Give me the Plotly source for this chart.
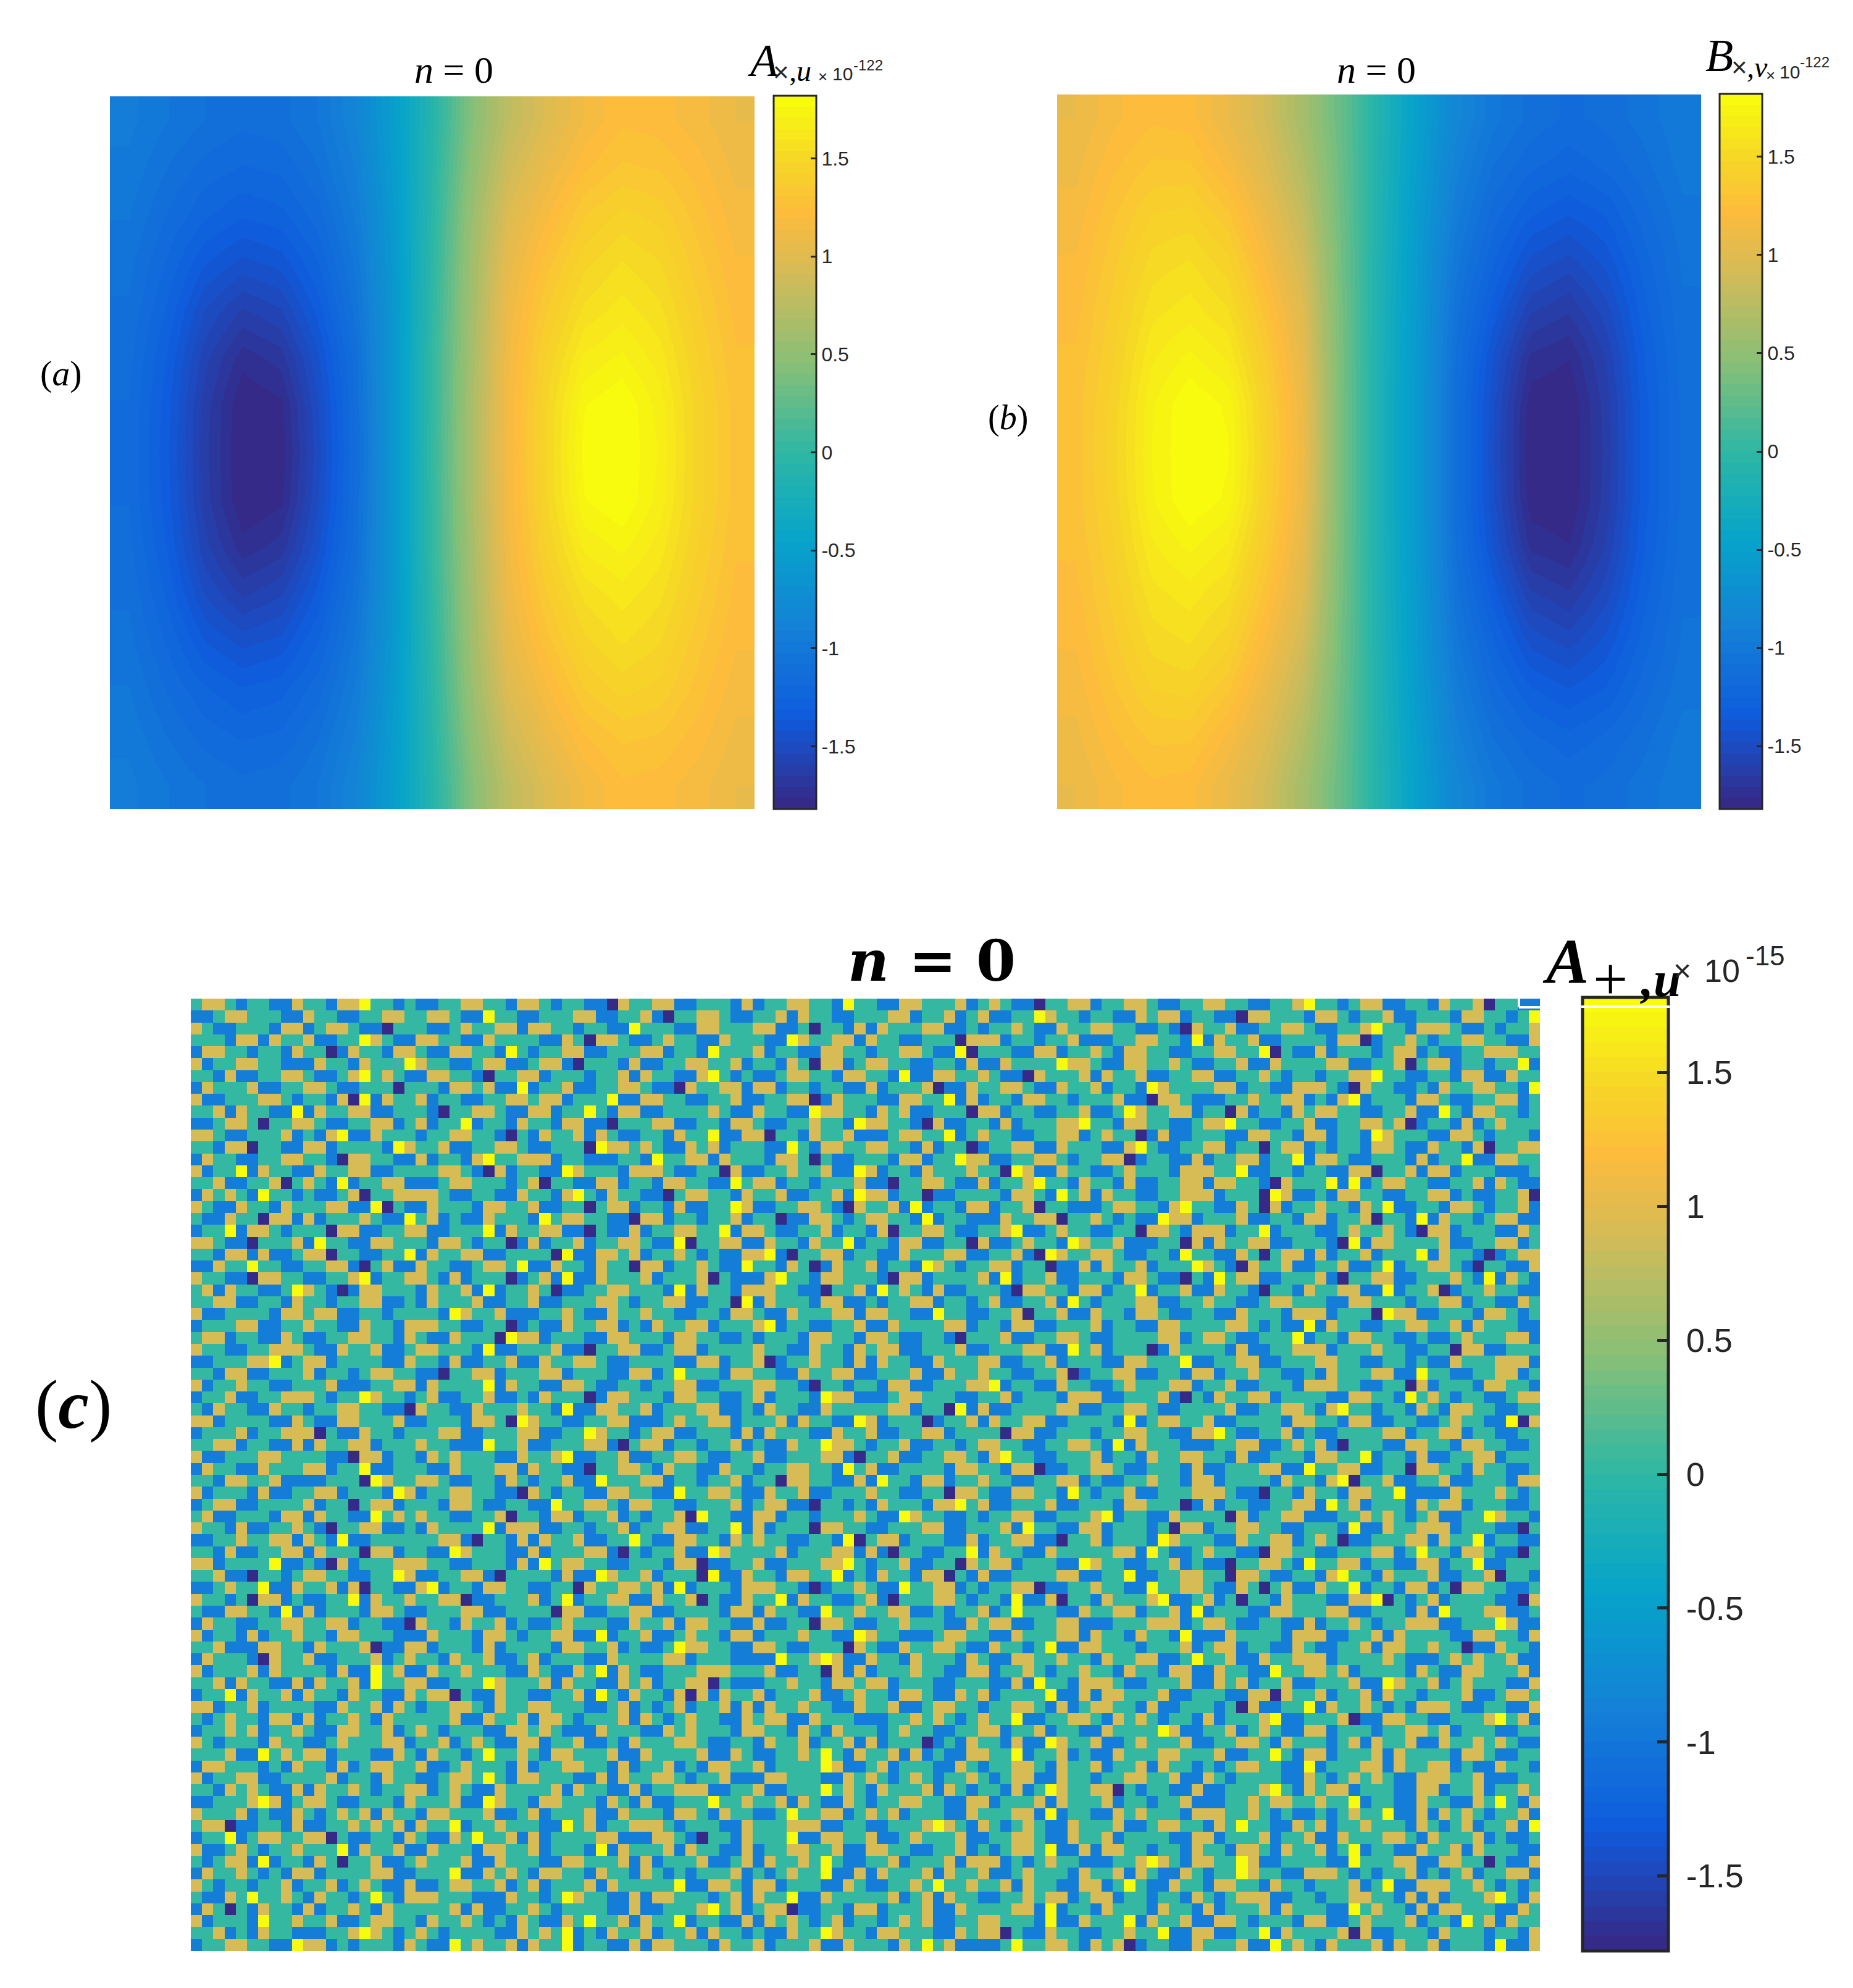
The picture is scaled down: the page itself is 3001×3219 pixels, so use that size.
import plotly.graph_objects as go

W, H = 3001, 3219

# Panel (a): coarse estimates, rows top to bottom, smoothed by the browser
panel_a = [
 [-0.95,-1.02,-1.08,-1.12,-1.10,-1.02,-0.85,-0.52,-0.08,0.42,0.78,0.98,1.14,1.24,1.22,1.16,1.08],
 [-0.98,-1.08,-1.16,-1.20,-1.18,-1.08,-0.90,-0.54,-0.06,0.48,0.88,1.08,1.24,1.32,1.30,1.22,1.12],
 [-1.02,-1.14,-1.24,-1.30,-1.27,-1.16,-0.95,-0.57,-0.04,0.54,0.98,1.18,1.36,1.44,1.40,1.28,1.16],
 [-1.06,-1.20,-1.36,-1.44,-1.40,-1.25,-1.00,-0.59,-0.02,0.58,1.05,1.28,1.46,1.54,1.48,1.33,1.20],
 [-1.09,-1.26,-1.48,-1.60,-1.54,-1.34,-1.05,-0.60,0.00,0.60,1.10,1.36,1.55,1.62,1.55,1.38,1.23],
 [-1.12,-1.31,-1.57,-1.74,-1.68,-1.43,-1.10,-0.60,0.02,0.62,1.13,1.43,1.66,1.72,1.62,1.42,1.26],
 [-1.14,-1.34,-1.62,-1.82,-1.78,-1.48,-1.12,-0.60,0.02,0.64,1.15,1.47,1.76,1.82,1.68,1.45,1.28],
 [-1.14,-1.35,-1.63,-1.82,-1.80,-1.50,-1.13,-0.60,0.03,0.65,1.16,1.48,1.78,1.82,1.70,1.45,1.28],
 [-1.14,-1.34,-1.62,-1.82,-1.78,-1.48,-1.12,-0.60,0.02,0.64,1.15,1.47,1.76,1.82,1.68,1.45,1.28],
 [-1.12,-1.31,-1.57,-1.74,-1.68,-1.43,-1.10,-0.60,0.02,0.62,1.13,1.43,1.66,1.72,1.62,1.42,1.26],
 [-1.09,-1.26,-1.48,-1.60,-1.54,-1.34,-1.05,-0.60,0.00,0.60,1.10,1.36,1.55,1.62,1.55,1.38,1.23],
 [-1.06,-1.20,-1.36,-1.44,-1.40,-1.25,-1.00,-0.59,-0.02,0.58,1.05,1.28,1.46,1.54,1.48,1.33,1.20],
 [-1.02,-1.14,-1.24,-1.30,-1.27,-1.16,-0.95,-0.57,-0.04,0.54,0.98,1.18,1.36,1.44,1.40,1.28,1.16],
 [-0.98,-1.08,-1.16,-1.20,-1.18,-1.08,-0.90,-0.54,-0.06,0.48,0.88,1.08,1.24,1.32,1.30,1.22,1.12],
 [-0.95,-1.02,-1.08,-1.12,-1.10,-1.02,-0.85,-0.52,-0.08,0.42,0.78,0.98,1.14,1.24,1.22,1.16,1.08],
]

# Panel (b): coarse estimates, rows top to bottom, smoothed by the browser
panel_b = [
 [1.08,1.18,1.24,1.22,1.08,0.90,0.62,0.28,-0.12,-0.50,-0.82,-1.00,-1.10,-1.15,-1.12,-1.05,-0.98],
 [1.12,1.24,1.32,1.32,1.18,0.98,0.70,0.30,-0.13,-0.52,-0.88,-1.08,-1.18,-1.23,-1.18,-1.10,-1.00],
 [1.16,1.30,1.42,1.44,1.32,1.08,0.80,0.32,-0.14,-0.55,-0.94,-1.16,-1.30,-1.36,-1.30,-1.16,-1.04],
 [1.20,1.35,1.50,1.54,1.44,1.18,0.90,0.34,-0.15,-0.57,-1.00,-1.24,-1.44,-1.50,-1.40,-1.22,-1.07],
 [1.23,1.39,1.57,1.62,1.54,1.28,0.98,0.36,-0.16,-0.58,-1.05,-1.33,-1.58,-1.64,-1.50,-1.27,-1.09],
 [1.26,1.42,1.64,1.72,1.64,1.36,1.04,0.37,-0.17,-0.59,-1.08,-1.42,-1.72,-1.76,-1.58,-1.31,-1.11],
 [1.28,1.45,1.70,1.82,1.75,1.42,1.08,0.38,-0.17,-0.60,-1.10,-1.46,-1.80,-1.82,-1.62,-1.33,-1.12],
 [1.28,1.46,1.71,1.82,1.77,1.44,1.10,0.38,-0.17,-0.60,-1.10,-1.47,-1.81,-1.82,-1.63,-1.33,-1.12],
 [1.28,1.45,1.70,1.82,1.75,1.42,1.08,0.38,-0.17,-0.60,-1.10,-1.46,-1.80,-1.82,-1.62,-1.33,-1.12],
 [1.26,1.42,1.64,1.72,1.64,1.36,1.04,0.37,-0.17,-0.59,-1.08,-1.42,-1.72,-1.76,-1.58,-1.31,-1.11],
 [1.23,1.39,1.57,1.62,1.54,1.28,0.98,0.36,-0.16,-0.58,-1.05,-1.33,-1.58,-1.64,-1.50,-1.27,-1.09],
 [1.20,1.35,1.50,1.54,1.44,1.18,0.90,0.34,-0.15,-0.57,-1.00,-1.24,-1.44,-1.50,-1.40,-1.22,-1.07],
 [1.16,1.30,1.42,1.44,1.32,1.08,0.80,0.32,-0.14,-0.55,-0.94,-1.16,-1.30,-1.36,-1.30,-1.16,-1.04],
 [1.12,1.24,1.32,1.32,1.18,0.98,0.70,0.30,-0.13,-0.52,-0.88,-1.08,-1.18,-1.23,-1.18,-1.10,-1.00],
 [1.08,1.18,1.24,1.22,1.08,0.90,0.62,0.28,-0.12,-0.50,-0.82,-1.00,-1.10,-1.15,-1.12,-1.05,-0.98],
]

# Panel (c): the five colour levels the cells take, in colour-bar units
level_values = [-1.78, -0.9, 0.0, 0.9, 1.78]

# Panel (c): hand-typed coarse estimate of the speckle, one digit per block, indexing level_values.
# NOT a cell-by-cell transcription: the reference has about 450x225 cells.
panel_c_rows = [
"2332122113 2213342212 1122332213 3212211032 2331122213 1223322142 2113322231 2321102233 1223321122 3322112234 2212331122 1322302211",
"1123322211 3221122332 2332114221 1222331122 3102233211 2231322112 2233122312 3112243221 2211323312 2110332221 3321223112 2213322124",
"3211222133 1233211022 2112322331 3322122114 2221133222 3311202213 1322233112 1223211322 3322112103 2231122332 1122342213 3321121223",
"2221331322 3112243211 3322113222 2113203321 1232211322 2114322331 3221122203 3312212231 1122332214 1322311222 2133012232 1223322113",
"1332212213 2201322133 2113322142 1223311222 3312214222 3122113322 1223321140 2221133122 3213322112 2332240211 3122212331 2112233322",
"3122332211 1322132224 3221123311 2331022213 1122332231 2213203312 3322112213 1132222433 2113322321 1223113222 2331122302 3312212241",
"2213112233 2112342321 1332210223 3122212231 3221134212 1123322133 2214113322 3211032223 1322311223 3112232122 1223342211 2213311322",
"1322231122 3321122202 2213323114 1223112233 2110322331 3312212211 3122230113 2233211322 3122143222 2331221133 3210322112 1322332214",
"3112223321 2213041322 3122112233 2331222411 3322112231 1223301322 2113322413 1221332212 2231103321 1122322331 2134122213 3211223312",
"2231322114 1322331122 2102233211 3312242133 1122223211 3221143322 1323112220 3312211223 1124322331 2203122132 3322112231 1421332212",
"1123320223 3211223312 3122412213 2213311022 2331122133 2112232214 3322103112 2131222334 2213322112 3342211223 1122332301 2213123222",
"3321122231 2134113222 1223322102 1322313211 2213224113 3022132231 1123322412 3221122331 2322013112 2211332213 3122143222 1133212221",
"2213302211 3312222143 2231122332 1122204332 3211323122 2114213322 3322131220 1223311322 2113421122 3312202331 2122133211 3221302233",
"1322112233 2210332211 3122134223 3312211122 1422331322 2133202112 2213312243 3112233212 2330122113 1223312241 3321122213 1224113322",
"3122413221 1322331122 2233210312 2114322213 3321122031 1223223114 3122132223 2204311322 1123222133 3224112212 2113302231 3312221112",
"2231122302 3214122331 1123322212 3022113312 2133221142 3312212223 1102233211 3122342213 2213112233 1332210322 2414123322 1122313211",
"1323214221 2112302233 3321122113 2213421322 1102332213 2231122314 3312201122 2213321423 1322112233 3122204311 2133221122 3312112230",
"3211322132 2233114021 1322213322 3112202331 2213112243 1122332103 2231412213 3122302211 1233221342 2113203122 3221324112 2133212231",
"2113220331 3122232114 2312113222 1423322110 3312212231 2201133212 3322141221 1132233022 3212114331 2223112213 3122302214 1322123311",
"1224133212 2203311223 3112224132 2331102113 1223322413 3211223122 1302233211 2234112322 1122033213 3312241222 1123223210 3312221132",
"3321102223 1422113322 2133212201 3122312233 2114022331 1322132241 2213311220 3112322143 2231112203 1322331122 2104133222 2311223312",
"2213313112 3302211224 1322331122 2204113323 1223212113 3410223312 2113222331 1223104322 3321122142 2113202331 3122312224 1322101233",
"1132242211 2233102311 3221123324 1132213220 3312232114 2213201322 3122143212 2331220113 1322312224 3210322311 2231124122 3321022113",
"3221103322 1122341223 3213122201 2314113222 3122230211 1342213322 2103312222 3141223112 2213321102 1423311222 3102233112 2232141321",
"2313221124 3210133222 1322314122 3201122332 2214132213 3322110223 1423213112 2210332213 3122412231 1322102213 2233114122 3012232211",
"2233112213 2212233112 1322231122 3112223321 2233112204 1322213311 2122331221 2311223142 1222331122 3221123322 2113322212 2331221132",
"3112222133 2331122122 2214322311 1223211322 3221122133 2113222331 3322114221 1223022311 3221332112 2113222133 3122204331 1222133212",
"1222331122 3221132213 3322112201 2113223312 1322331222 3412211223 1132222331 2213311222 3122113322 2233212114 1322112233 2231322211",
"2331221132 1122332213 2113222043 3122211332 2213322112 1222133221 3321122102 2231122332 1122223312 3321122241 2213322112 1123222331",
"3221122333 2113223112 3322214112 2231102233 1123312222 3221132213 2331122231 1222331142 3122201322 2213112233 3122232211 2203311222",
"1122233412 3312222113 2213112231 1322332112 2221133122 3012232213 1322113222 3311223122 2113322241 1223311222 3322112212 1132223331",
"2213311222 3122123322 1102233122 2331222113 3124222133 2211322331 1222311322 3221122301 2233112213 3122322112 1322233114 2211223312",
"3122322112 2231112233 1322224132 2113321122 1223311222 3322102212 2133112223 3412211322 1123222331 2231122213 3322112203 1222133221",
"1223112233 3212243221 2311223112 1322201332 2213322112 3122214331 1123322211 2231222133 3112223102 1322331222 2113322142 3212211233",
"2132211322 1223322110 3221132223 2214113322 3122233112 1322113222 2233122041 3112222331 1223321122 2231122332 1342212213 2133221122",
"3312222113 2113322231 1222133204 3221122331 1123223312 2231322114 3122201223 1322331122 2214123322 3112222133 2213311221 1232211403",
"1222312233 3021132212 2233112223 3112243221 2331122213 1322211322 3112233122 2203311222 1223322113 3421122312 1122223312 2331221122",
"2233122113 1322331222 3221114223 1122233102 3312212231 2113224332 1223112212 3322112233 2141322211 1223311232 3102221133 2213322112",
"3112223322 2211033122 1323222113 2234112231 1223321122 3112223310 2231122332 1342211222 3122132233 2213112221 3322412213 1122331222",
"1322113222 3312241122 2113222331 3221102233 2132211322 1223322142 3112222133 2213301122 3321122213 1122233114 2233112203 3221322112",
"2213322311 1122204322 3321122132 1223114222 3312212231 2203322113 1422133122 3221122331 2112232213 3122221322 1340223112 2311222133",
"3122213112 2331222143 1223322110 3212211332 2114223321 1322311222 3221122033 2113322142 1223112223 3321102213 2213322411 1132223212",
"1233112222 3122023312 2213321122 1142233213 3221122231 2331102212 1322213342 3112223112 2213322201 3122112233 1423122213 2331222112",
"2311222133 1322114232 3221122302 2133122312 1223042211 3312212223 2114322112 1223311222 3412211322 2203122331 1122323212 3112243221",
"3221311223 2102233112 1322224133 3112212231 2233112241 3122203322 1122233112 2231422113 3122212033 1223322112 2214113223 3312221102",
"1122322331 3214112222 2233102213 1322311224 2113322132 3221122140 2331222113 1223311022 3122214322 2113223312 3201122233 1322412211",
"2213112233 1322203312 2114322211 3122233102 1223114322 2231222331 3102211224 1322113222 2233142112 3221103322 1122233124 2213321102",
"3312222411 2103122233 3221122213 1423322112 2213301122 3112223342 1223112203 2331222114 3221122312 1102233214 2233122113 3122411222",
"2231102212 3322112243 1122331022 2213114322 3122204113 2213322412 1322133021 3112222331 1224112233 2203321122 1342213222 3112230221",
"1123224113 2231302211 3412213322 1122032233 2314122213 3322101223 2114223312 1223301122 3221142233 2113202311 3224122133 1203322112",
"3221203312 1122413223 2233011222 3124122331 1322302113 2241322112 3102223321 2214113022 1322234112 3120221322 2113340212 3122221103",
"2113322141 3122213321 1222331122 2203311223 3112222133 1322114223 2233112122 3124222113 2233122314 1222113322 2331122213 1422233112",
"1322112233 2233122110 3221322312 1123222113 2231332211 3112203321 1223222113 2331122331 1122233312 3321122113 1223212233 3112224311",
"3122131223 2213322211 1322213321 2233114122 3112322133 1222322114 3221112332 2113222331 3221322141 1132222133 3112231322 2211332213",
"2231113322 1322230113 3122213122 2213322312 1124332211 3321122203 2113223321 1322124113 3222122231 2331221132 1122313322 3220113221",
"1322210322 3112223123 2213223112 3122211322 2233122211 1142234311 3221322213 2113322322 1322331124 2231132233 3122223211 1232322311",
"3122231322 2213114231 1322322211 3211324132 1122233322 2311220313 1222322113 3122321223 2213221331 1322114223 3231222213 2113322231",
"2231322113 1322314223 3112224322 2313221132 3122330211 1223221332 3312221122 2113142213 3321122231 1323122311 2223114322 3123222113",
"1224132231 3221322113 2330211322 1122314213 2213031322 3122231123 2213321132 3122224113 1332223112 2211330322 3122313221 2223112332",
"3312231222 2113223132 1223321322 3322211231 2123122313 1322322113 2231123322 1223321312 3322131122 2120311224 1322321213 3321122113",
"2123221331 3122321322 2223113223 1332122231 3212322113 2331132221 1122323212 3224112233 2132321221 3122234112 2230113322 1122234231",
"1223231223 2113322312 3212221133 2321113222 1132322213 3221321322 2123221122 3312231221 1322224311 2231232113 3122212233 2312221122",
"3212221322 1123222331 2231232113 3122311213 2223321122 1322312231 3122201213 2213114322 3112322231 1223321322 2123132231 1322323211",
"2223114232 3312221132 1322124223 2133222311 3222231132 1122324213 2231312113 3224122312 1132223322 2311224213 3122231322 2213321122",
"1332221213 2213123322 3112322213 1223322131 2231213322 3122224311 2312221132 1223321322 3122313221 2123322114 1222331322 3312113221",
"3122331122 2231221322 1123324213 3222113132 2332122311 1332221132 3212321223 2123311322 1223322311 3212222113 2123232113 3322311122",
"2213232113 1322321223 3123211322 2231322113 1223331122 3112224232 1322231321 2213124322 3302122113 1122234213 2331222113 3122312232",
"1122234312 3321122213 2223114322 1332221321 3112224223 2231321132 1223322113 3122231322 2312212231 1122323322 3224122113 2211324213",
"3222312113 2123231322 1332223112 3122231132 2213321322 1124223312 3231222113 2223314122 1132322213 3322321211 2123224113 1323212231",
"2330112213 1122323231 3224122322 2114231223 3321222113 2223331122 1122234321 3212321132 2231123322 1324221132 3122322213 2123122314",
"1224123322 3302112213 2113242231 3122223311 1332102213 2224113322 3112322231 1223321132 2312222113 3122231223 1132223321 3222312112",
"3112321223 2224132231 1322213322 3122214132 2231322113 1223322311 3322112231 2123324113 1332212213 2213321322 3124122113 2231322211",
"2123314122 1320223112 3222311322 2113322231 3122231123 1322324211 2231222313 3312123221 1122343213 3224311222 2114222331 1332202113",
"1322321213 3122223311 2224113232 1332213221 3212122231 2123224113 1322231322 3112322213 2231321132 1224322113 3321212231 2123122331",
"3212212231 2231232113 1123322312 3122231322 2224113321 3312221132 1122324223 2231322113 3124211322 1332213221 2223124113 3322321212",
"2113242232 1322124213 3322211132 2124322113 1332221231 3224113222 2231231322 1122323312 3312212213 2123331122 1223322131 3122234213",
"1320213221 3122321322 2223131122 3212222113 1122234231 2330112213 3122231132 2223314122 1322213221 3122231322 2114232213 1332221132",
"3122214223 2231123322 1322321213 2113242231 3224122113 1323212312 2123231122 3322214113 2224132231 1332122213 3112322231 2214231322",
"2231213221 1122343212 3212222113 2324121322 3122313221 2113224322 1332221132 3302113221 1223224113 3112241322 2230311222 1322212213",
"1223322114 3312122213 2114232231 3224122113 1332221322 3122231132 2213242311 1124223321 3230122113 2223114232 1322231322 3122214113",
]

# Colour-bar tick labels
tick_values = [-1.5, -1, -0.5, 0, 0.5, 1, 1.5]
tick_labels = ["-1.5", "-1", "-0.5", "0", "0.5", "1", "1.5"]

# Colormap anchors (style, not data)
anchors = [(0, "#352a87"), (0.125, "#0f5cdd"), (0.25, "#1481d6"), (0.375, "#06a4ca"),
           (0.5, "#2eb7a4"), (0.625, "#87bf77"), (0.75, "#d1bb59"), (0.84, "#fdbc3c"),
           (0.92, "#f5d924"), (1, "#f9fb0e")]

def hex_rgb(h):
    return tuple(int(h[i:i + 2], 16) for i in (1, 3, 5))

def colour_at(t):
    for (t0, c0), (t1, c1) in zip(anchors, anchors[1:]):
        if t <= t1:
            f = (t - t0) / (t1 - t0)
            a, b = hex_rgb(c0), hex_rgb(c1)
            return "rgb(%d,%d,%d)" % tuple(round(a[i] + (b[i] - a[i]) * f) for i in range(3))
    return anchors[-1][1]

N = 64
stepped = []
for i in range(N):
    c = colour_at(i / (N - 1))
    stepped += [[i / N, c], [(i + 1) / N, c]]

rows = [r.replace(" ", "") for r in panel_c_rows]
ncol = min(len(r) for r in rows)
panel_c = [[level_values[int(ch)] for ch in r[:ncol]] for r in rows]

def fx(x):
    return x / W

def fy(y):
    return 1 - y / H

INK = "#262626"
SERIF = "Liberation Serif"
SANS = "Liberation Sans"
panels = [
    dict(z=panel_a, box=(178, 1222, 156, 1310), bar=(1253, 1322, 155, 1310), rng=1.82, smooth="best",
         size=32, ow=3, tl=10, pad=""),
    dict(z=panel_b, box=(1712, 2755, 153, 1310), bar=(2785, 2854, 152, 1310), rng=1.82, smooth="best",
         size=32, ow=3, tl=10, pad=""),
    dict(z=panel_c, box=(309, 2494, 1617, 3159), bar=(2563, 2702, 1615, 3159), rng=1.78, smooth=False,
         size=54, ow=5, tl=20, pad="\u00a0"),
]

fig = go.Figure()
layout_axes = {}
for i, p in enumerate(panels, start=1):
    x0, x1, y0, y1 = p["box"]
    bx0, bx1, by0, by1 = p["bar"]
    suffix = "" if i == 1 else str(i)
    fig.add_trace(go.Heatmap(
        z=p["z"], xaxis="x" + suffix, yaxis="y" + suffix, zmin=-p["rng"], zmax=p["rng"],
        colorscale=stepped, zsmooth=p["smooth"], hoverinfo="skip",
        colorbar=dict(
            x=fx(bx0), xanchor="left", xpad=0, y=fy(by0), yanchor="top", ypad=0,
            lenmode="pixels", len=by1 - by0, thicknessmode="pixels", thickness=bx1 - bx0,
            outlinecolor=INK, outlinewidth=p["ow"], borderwidth=0,
            tickmode="array", tickvals=tick_values, ticktext=[p["pad"] + t for t in tick_labels],
            ticks="inside", ticklen=p["tl"], tickwidth=p["ow"], tickcolor=INK,
            tickfont=dict(family=SANS, size=p["size"], color=INK),
        ),
    ))
    axis_common = dict(visible=False, showgrid=False, zeroline=False)
    layout_axes["xaxis" + suffix] = dict(domain=[fx(x0), fx(x1)], anchor="y" + suffix, **axis_common)
    layout_axes["yaxis" + suffix] = dict(domain=[fy(y1), fy(y0)], anchor="x" + suffix,
                                         autorange="reversed", **axis_common)

def text(s, x, y, size, family=SERIF, color="black", anchor="left"):
    fig.add_annotation(text=s, x=fx(x), y=fy(y), xref="paper", yref="paper", xanchor=anchor,
                       yanchor="middle", showarrow=False, align="left",
                       font=dict(family=family, size=size, color=color))

# Titles and panel letters
text("<i>n</i> = 0", 735, 113, 62, anchor="center")
text("<i>n</i> = 0", 2229, 113, 62, anchor="center")
text("<b><i>n</i> = 0</b>", 1509, 1556, 92, family="DejaVu Serif", anchor="center")
text("(<i>a</i>)", 99, 604, 58, anchor="center")
text("(<i>b</i>)", 1632, 676, 56, anchor="center")
text("(<b><i>c</i></b>)", 119, 2274, 112, anchor="center")

# Colour-bar headings, panel (a)
text("<i>A</i>", 1208, 98, 74)
text("×", 1250, 117, 44, family=SANS, color=INK)
text("<i>,u</i>", 1276, 114, 48)
text("×", 1323, 124, 26, family=SANS, color=INK)
text("10", 1346, 120, 30, family=SANS, color=INK)
text("-122", 1380, 105, 24, family=SANS, color=INK)

# Colour-bar headings, panel (b)
text("<i>B</i>", 2760, 90, 74)
text("×", 2802, 108, 44, family=SANS, color=INK)
text("<i>,v</i>", 2827, 108, 48)
text("×", 2858, 122, 26, family=SANS, color=INK)
text("10", 2880, 117, 30, family=SANS, color=INK)
text("-122", 2913, 100, 24, family=SANS, color=INK)

# Colour-bar headings, panel (c)
text("<b><i>A</i></b>", 2496, 1556, 104)
text("+", 2578, 1585, 100)
text("<b><i>,u</i></b>", 2654, 1586, 80)
text("×", 2708, 1572, 50, family=SANS, color=INK)
text("10", 2758, 1572, 52, family=SANS, color=INK)
text("-15", 2825, 1548, 44, family=SANS, color=INK)

# White printing artefacts at the top right of panel (c)
for sx0, sy0, sx1, sy1 in [(2460, 1617, 2460, 1631), (2460, 1631, 2494, 1631)]:
    fig.add_shape(type="line", xref="paper", yref="paper", x0=fx(sx0), y0=fy(sy0), x1=fx(sx1), y1=fy(sy1),
                  line=dict(color="white", width=4), layer="above")
# White line across the colour bar of panel (c): an annotation, as it draws above the bar
fig.add_annotation(text="\u00a0", x=fx(2561), y=fy(1630), xref="paper", yref="paper", xanchor="left",
                   yanchor="middle", showarrow=False, width=143, height=4, bgcolor="white",
                   borderpad=0, borderwidth=0, font=dict(size=1, color="white"))

fig.update_layout(width=W, height=H, margin=dict(l=0, r=0, t=0, b=0, pad=0),
                  paper_bgcolor="white", plot_bgcolor="white", showlegend=False, **layout_axes)

fig.write_html("out.html", config={"displayModeBar": False},
               post_script="document.body.style.margin='0';document.body.style.overflow='hidden';")
